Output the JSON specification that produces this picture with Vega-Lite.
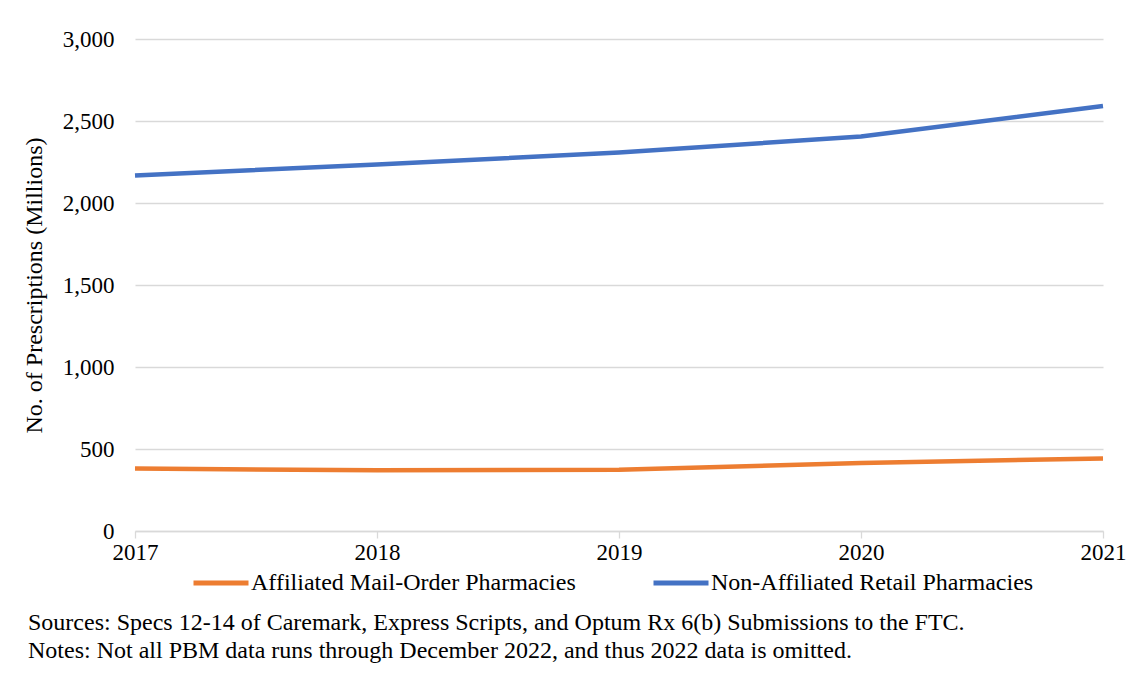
{
  "$schema": "https://vega.github.io/schema/vega-lite/v6.json",
  "autosize": {"type": "none"},
  "width": 968,
  "height": 492,
  "padding": {"left": 135, "top": 39, "right": 41, "bottom": 142},
  "background": "white",
  "title": {
    "text": ["Sources: Specs 12-14 of Caremark, Express Scripts, and Optum Rx 6(b) Submissions to the FTC.", "Notes: Not all PBM data runs through December 2022, and thus 2022 data is omitted."],
    "orient": "bottom",
    "anchor": "start",
    "frame": "group",
    "dx": -107,
    "offset": 16,
    "font": "Liberation Serif",
    "fontSize": 24,
    "fontWeight": "normal",
    "color": "black",
    "lineHeight": 28,
    "baseline": "top"
  },
  "data": {
    "values": [
      {"year": 2017, "series": "Affiliated Mail-Order Pharmacies", "value": 381},
      {"year": 2018, "series": "Affiliated Mail-Order Pharmacies", "value": 370},
      {"year": 2019, "series": "Affiliated Mail-Order Pharmacies", "value": 373},
      {"year": 2020, "series": "Affiliated Mail-Order Pharmacies", "value": 415},
      {"year": 2021, "series": "Affiliated Mail-Order Pharmacies", "value": 442},
      {"year": 2017, "series": "Non-Affiliated Retail Pharmacies", "value": 2168},
      {"year": 2018, "series": "Non-Affiliated Retail Pharmacies", "value": 2235},
      {"year": 2019, "series": "Non-Affiliated Retail Pharmacies", "value": 2308},
      {"year": 2020, "series": "Non-Affiliated Retail Pharmacies", "value": 2405},
      {"year": 2021, "series": "Non-Affiliated Retail Pharmacies", "value": 2592}
    ]
  },
  "mark": {"type": "line", "strokeWidth": 4.5, "strokeCap": "butt"},
  "encoding": {
    "x": {
      "field": "year",
      "type": "quantitative",
      "scale": {"domain": [2017, 2021], "nice": false, "zero": false},
      "axis": {
        "values": [2017, 2018, 2019, 2020, 2021],
        "format": "d",
        "title": null,
        "grid": false,
        "domainColor": "#d9d9d9",
        "domainWidth": 1.3,
        "tickColor": "#d9d9d9",
        "tickWidth": 1.3,
        "tickSize": 7,
        "labelPadding": 3,
        "labelFont": "Liberation Serif",
        "labelFontSize": 23,
        "labelColor": "black",
        "labelFlush": false
      }
    },
    "y": {
      "field": "value",
      "type": "quantitative",
      "scale": {"domain": [0, 3000], "nice": false},
      "axis": {
        "values": [0, 500, 1000, 1500, 2000, 2500, 3000],
        "format": ",d",
        "title": "No. of Prescriptions (Millions)",
        "titleFont": "Liberation Serif",
        "titleFontSize": 24,
        "titleFontWeight": "normal",
        "titleColor": "black",
        "titlePadding": 16,
        "domain": false,
        "ticks": false,
        "labelPadding": 21,
        "labelFont": "Liberation Serif",
        "labelFontSize": 23,
        "labelColor": "black",
        "gridColor": "#d9d9d9",
        "gridWidth": 1.3
      }
    },
    "color": {
      "field": "series",
      "type": "nominal",
      "scale": {
        "domain": ["Affiliated Mail-Order Pharmacies", "Non-Affiliated Retail Pharmacies"],
        "range": ["#ED7D31", "#4472C4"]
      },
      "legend": {
        "title": null,
        "orient": "none",
        "direction": "horizontal",
        "legendX": 56,
        "legendY": 514,
        "symbolType": "stroke",
        "symbolSize": 3025,
        "symbolStrokeWidth": 5,
        "labelOffset": 0,
        "columnPadding": 67,
        "labelFont": "Liberation Serif",
        "labelFontSize": 24,
        "labelColor": "black",
        "labelLimit": 500
      }
    }
  },
  "config": {"view": {"stroke": null}}
}
